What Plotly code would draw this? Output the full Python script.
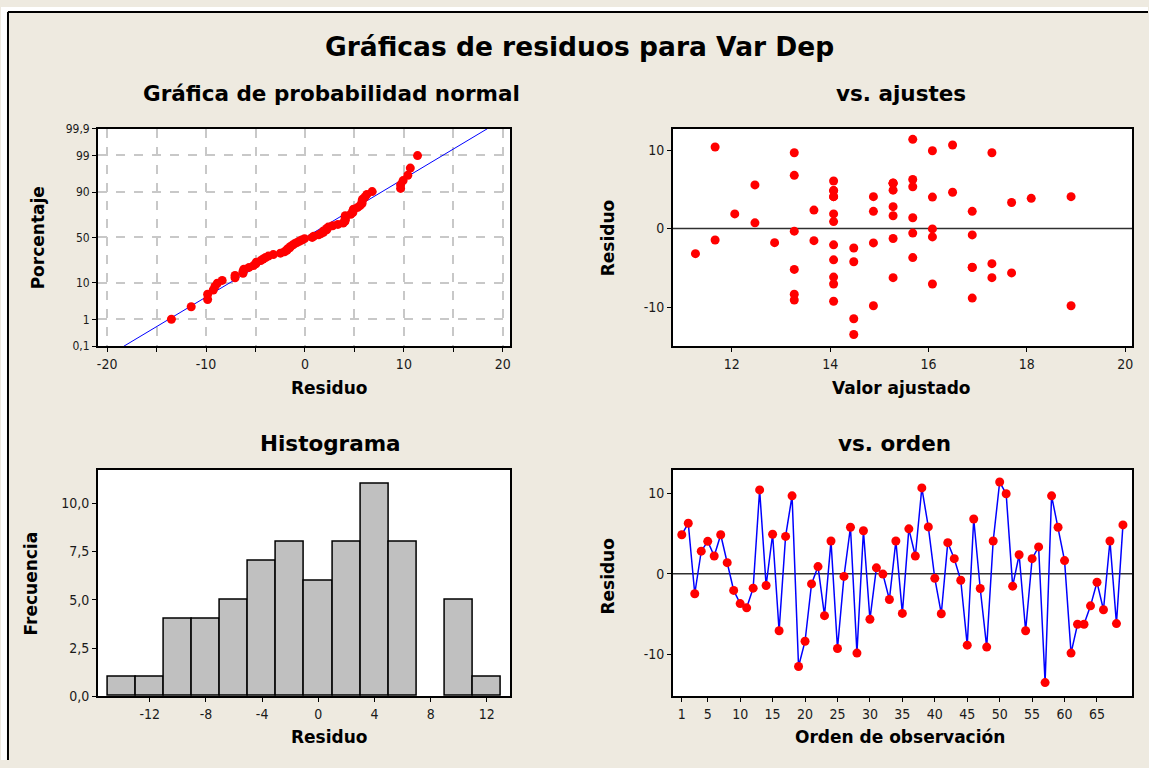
import numpy as np
import plotly.graph_objects as go
from statistics import NormalDist

# ---------------- data ----------------
observation = list(range(1, 70))
residuals = [4.84, 6.26, -2.48, 2.80, 4.02, 2.20, 4.84, 1.38, -2.07, -3.70,
             -4.23, -1.79, 10.40, -1.46, 4.90, -7.07, 4.63, 9.67, -11.50, -8.37,
             -1.26, 0.89, -5.20, 4.07, -9.27, -0.33, 5.77, -9.84, 5.33, -5.65,
             0.73, -0.04, -3.20, 4.07, -4.92, 5.57, 2.20, 10.65, 5.81, -0.57,
             -4.96, 3.86, 1.87, -0.81, -8.86, 6.79, -1.83, -9.10, 4.07, 11.38,
             9.92, -1.54, 2.36, -7.07, 1.87, 3.33, -13.50, 9.67, 5.77, 1.63,
             -9.84, -6.26, -6.26, -3.98, -1.06, -4.47, 4.07, -6.18, 6.06]
fitted = [14.07, 15.68, 14.48, 15.28, 16.08, 14.88, 14.07, 15.68, 14.07, 15.68,
          14.48, 12.87, 11.66, 11.66, 15.28, 14.07, 16.49, 13.27, 14.48, 13.27,
          15.28, 14.07, 13.27, 14.88, 14.07, 13.27, 15.28, 14.88, 15.68, 17.69,
          12.47, 16.08, 11.26, 18.90, 16.89, 12.47, 16.89, 16.49, 15.28, 15.68,
          16.89, 18.09, 12.06, 16.89, 16.89, 13.27, 14.88, 13.27, 14.07, 15.68,
          16.08, 13.67, 13.67, 16.08, 14.07, 17.69, 14.48, 17.29, 15.28, 15.28,
          18.90, 15.28, 17.29, 14.07, 16.08, 17.29, 14.07, 14.07, 14.07]

prob_ticks = [0.1, 1, 10, 50, 90, 99, 99.9]
prob_labels = ["0,1", "1", "10", "50", "90", "99", "99,9"]
norm_x_ticks = [-20, -15, -10, -5, 0, 5, 10, 15, 20]
norm_x_labels = ["-20", "", "-10", "", "0", "", "10", "", "20"]
fit_x_ticks = [12, 14, 16, 18, 20]
res_y_ticks = [-10, 0, 10]
res_y_labels = ["-10", "0", "10"]
hist_y_ticks = [0, 2.5, 5, 7.5, 10]
hist_y_labels = ["0,0", "2,5", "5,0", "7,5", "10,0"]
hist_x_ticks = [-12, -8, -4, 0, 4, 8, 12]
hist_x_labels = ["-12", "-8", "-4", "0", "4", "8", "12"]
order_ticks = [1, 5, 10, 15, 20, 25, 30, 35, 40, 45, 50, 55, 60, 65]

# ---------------- derived ----------------
nd = NormalDist()
res = np.array(residuals)
n = len(res)
sorted_res = np.sort(res)
z_pts = [nd.inv_cdf((i - 0.3) / (n + 0.4)) for i in range(1, n + 1)]
mu, sd = res.mean(), res.std(ddof=1)
z_lo, z_hi = nd.inv_cdf(0.001), nd.inv_cdf(0.999)

W, H = 1149, 768
BG = "#EEEAE0"
FONT = "DejaVu Sans Condensed, DejaVu Sans, sans-serif"
TFONT = "DejaVu Sans, sans-serif"
TICKFONT = dict(family=FONT, size=14, color="#1a1a1a")
RED = "#FF0000"
BLUE = "#0000FF"


def px(x):
    return x / W


def py(y):
    return 1 - y / H


fig = go.Figure()

# normal probability plot
fig.add_trace(go.Scatter(x=[mu + sd * z_lo, mu + sd * z_hi], y=[z_lo, z_hi], mode="lines",
                         line=dict(color=BLUE, width=1), xaxis="x", yaxis="y", hoverinfo="skip"))
fig.add_trace(go.Scatter(x=sorted_res, y=z_pts, mode="markers",
                         marker=dict(color=RED, size=9), xaxis="x", yaxis="y"))

# vs fitted
fig.add_trace(go.Scatter(x=fitted, y=residuals, mode="markers",
                         marker=dict(color=RED, size=9), xaxis="x2", yaxis="y2"))

# histogram
fig.add_trace(go.Histogram(x=residuals, xbins=dict(start=-15, end=13, size=2),
                           marker=dict(color="#C0C0C0", line=dict(color="black", width=1.5)),
                           xaxis="x3", yaxis="y3"))

# vs order
fig.add_trace(go.Scatter(x=observation, y=residuals, mode="lines+markers",
                         line=dict(color=BLUE, width=1.5),
                         marker=dict(color=RED, size=9), xaxis="x4", yaxis="y4"))

axis_common = dict(showline=True, linecolor="black", linewidth=1.5, mirror=True,
                   ticks="outside", ticklen=4, tickcolor="black", tickwidth=1,
                   tickfont=TICKFONT, zeroline=False, showgrid=False)
grid = dict(showgrid=True, gridcolor="#C8C8C8", griddash="dash", gridwidth=1.5)

dom_x_left = [px(97), px(510)]
dom_x_right = [px(673), px(1133)]
dom_y_top = [py(346), py(124)]
dom_y_bot = [py(703), py(472)]

fig.update_layout(
    width=W, height=H,
    margin=dict(l=0, r=0, t=0, b=0),
    paper_bgcolor=BG, plot_bgcolor="white",
    showlegend=False, bargap=0,
    font=dict(family=FONT, color="black"),
    xaxis=dict(domain=dom_x_left, range=[-20.94, 20.74], anchor="y",
               tickvals=norm_x_ticks, ticktext=norm_x_labels, **{**axis_common, **grid}),
    yaxis=dict(domain=dom_y_top, range=[z_lo, z_hi], anchor="x",
               tickvals=[nd.inv_cdf(p / 100) for p in prob_ticks], ticktext=prob_labels,
               **{**axis_common, **grid, "tickfont": dict(family=FONT, size=12, color="#1a1a1a")}),
    xaxis2=dict(domain=dom_x_right, range=[10.80, 20.14], anchor="y2",
                tickvals=fit_x_ticks, ticktext=[str(v) for v in fit_x_ticks], **axis_common),
    yaxis2=dict(domain=dom_y_top, range=[-15.0, 12.75], anchor="x2",
                tickvals=res_y_ticks, ticktext=res_y_labels, **axis_common),
    xaxis3=dict(domain=dom_x_left, range=[-15.70, 13.66], anchor="y3",
                tickvals=hist_x_ticks, ticktext=hist_x_labels, **axis_common),
    yaxis3=dict(domain=dom_y_bot, range=[0, 11.73], anchor="x3",
                tickvals=hist_y_ticks, ticktext=hist_y_labels, **axis_common),
    xaxis4=dict(domain=dom_x_right, range=[-0.38, 70.4], anchor="y4",
                tickvals=order_ticks, ticktext=[str(v) for v in order_ticks], **axis_common),
    yaxis4=dict(domain=dom_y_bot, range=[-15.2, 12.9], anchor="x4",
                tickvals=res_y_ticks, ticktext=res_y_labels, **axis_common),
)

# white outer strips and the black frame edges (top and left)
fig.add_shape(type="rect", xref="paper", yref="paper", x0=0, x1=px(6), y0=0, y1=1,
              fillcolor="white", line=dict(width=0), layer="below")
fig.add_shape(type="rect", xref="paper", yref="paper", x0=0, x1=1, y0=py(4), y1=1,
              fillcolor="white", line=dict(width=0), layer="below")
fig.add_shape(type="line", xref="paper", yref="paper", x0=px(7), x1=px(7), y0=0, y1=py(5),
              line=dict(color="black", width=2))
fig.add_shape(type="line", xref="paper", yref="paper", x0=px(7), x1=1, y0=py(5), y1=py(5),
              line=dict(color="black", width=2))

# zero reference lines
for xa, ya in [("x2", "y2"), ("x4", "y4")]:
    fig.add_shape(type="line", xref=f"{xa} domain", yref=ya, x0=0, x1=1, y0=0, y1=0,
                  line=dict(color="#303030", width=1.5), layer="below")

texts = [
    ("Gráficas de residuos para Var Dep", 580, 40, 26.5, 0),
    ("Gráfica de probabilidad normal", 331, 88, 21.5, 0),
    ("vs. ajustes", 902, 88, 21.5, 0),
    ("Histograma", 330, 445, 21.5, 0),
    ("vs. orden", 895, 445, 21.5, 0),
    ("Residuo", 329, 389, 17, 0),
    ("Valor ajustado", 902, 389, 17, 0),
    ("Residuo", 329, 745, 17, 0),
    ("Orden de observación", 901, 745, 17, 0),
    ("Porcentaje", 37, 235, 17, -90),
    ("Residuo", 608, 235, 17, -90),
    ("Frecuencia", 30, 588, 17, -90),
    ("Residuo", 608, 580, 17, -90),
]
for t, x, y, s, ang in texts:
    fig.add_annotation(text=f"<b>{t}</b>", x=px(x), y=py(y), xref="paper", yref="paper",
                       xanchor="center", yanchor="middle", showarrow=False, textangle=ang,
                       font=dict(family=TFONT, size=s, color="black"))

fig.write_html("out.html", config={"displayModeBar": False},
               post_script="document.body.style.margin='0px';document.body.style.overflow='hidden';")
